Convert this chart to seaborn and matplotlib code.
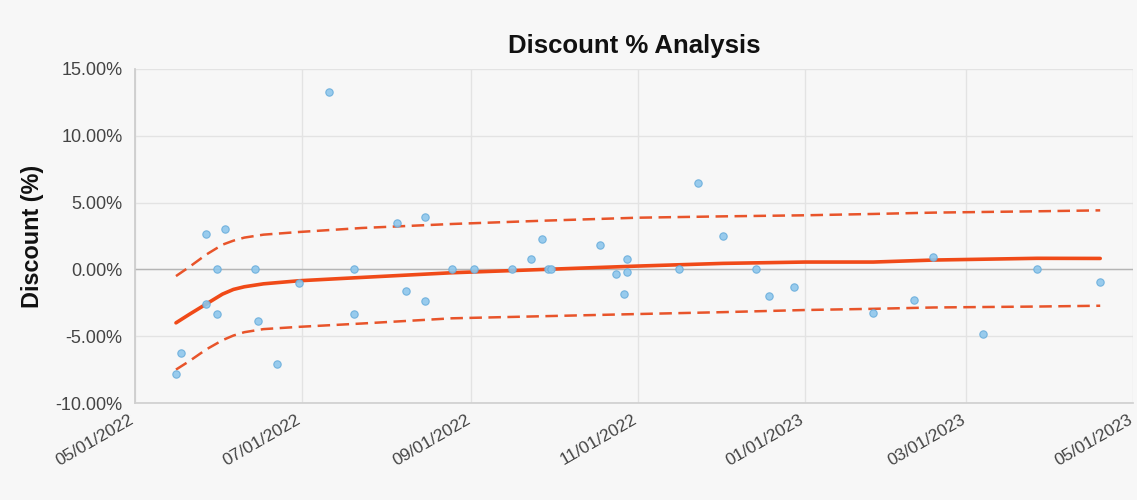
import matplotlib
matplotlib.use("Agg")
import matplotlib.pyplot as plt
import matplotlib.dates as mdates
import matplotlib.transforms as mtransforms
from matplotlib.ticker import FuncFormatter, FixedLocator
import seaborn as sns
import pandas as pd

# ---- data ----
obs_dates = ["2022-05-16", "2022-05-18", "2022-05-27", "2022-05-27", "2022-05-31", "2022-05-31",
             "2022-06-03", "2022-06-14", "2022-06-15", "2022-06-22", "2022-06-30", "2022-07-11",
             "2022-07-20", "2022-07-20", "2022-08-05", "2022-08-08", "2022-08-15", "2022-08-15",
             "2022-08-25", "2022-09-02", "2022-09-16", "2022-09-23", "2022-09-27", "2022-09-29",
             "2022-09-30", "2022-10-18", "2022-10-24", "2022-10-27", "2022-10-28", "2022-10-28",
             "2022-11-16", "2022-11-23", "2022-12-02", "2022-12-14", "2022-12-19", "2022-12-28",
             "2023-01-26", "2023-02-10", "2023-02-17", "2023-03-07", "2023-03-27", "2023-04-19"]
obs_discount = [-7.8, -6.25, 2.65, -2.6, 0.0, -3.35,
                3.0, 0.0, -3.85, -7.05, -1.0, 13.3,
                0.0, -3.35, 3.45, -1.65, 3.95, -2.35,
                0.0, 0.0, 0.0, 0.8, 2.3, 0.0,
                0.0, 1.8, -0.35, -1.85, 0.8, -0.2,
                0.0, 6.5, 2.5, 0.0, -2.0, -1.3,
                -3.25, -2.3, 0.9, -4.85, 0.0, -0.95]

trend_dates = ["2022-05-16", "2022-05-21", "2022-05-27", "2022-06-02", "2022-06-06", "2022-06-10",
               "2022-06-17", "2022-06-30", "2022-07-23", "2022-08-25", "2022-09-28", "2022-11-01",
               "2022-12-02", "2023-01-01", "2023-01-26", "2023-02-17", "2023-03-27", "2023-04-19"]
trend_mid = [-4.0, -3.35, -2.6, -1.85, -1.5, -1.3, -1.08, -0.85, -0.6, -0.25, 0.0, 0.25,
             0.45, 0.55, 0.55, 0.7, 0.83, 0.82]
trend_upper = [-0.5, 0.2, 1.1, 1.85, 2.15, 2.38, 2.6, 2.8, 3.1, 3.4, 3.65, 3.87,
               3.97, 4.05, 4.15, 4.25, 4.35, 4.42]
trend_lower = [-7.5, -6.85, -6.0, -5.3, -4.95, -4.7, -4.47, -4.3, -4.05, -3.66, -3.5, -3.34,
               -3.2, -3.04, -2.95, -2.85, -2.78, -2.72]

x_ticks = ["2022-05-01", "2022-07-01", "2022-09-01", "2022-11-01", "2023-01-01", "2023-03-01", "2023-05-01"]
y_ticks = [-10, -5, 0, 5, 10, 15]

title = "Discount % Analysis"
y_label = "Discount (%)"

# ---- frames ----
obs = pd.DataFrame({"date": pd.to_datetime(obs_dates), "discount": obs_discount})
trend = pd.DataFrame({"date": pd.to_datetime(trend_dates), "mid": trend_mid,
                      "upper": trend_upper, "lower": trend_lower})

sns.set_theme(style="white")
plt.rcParams["font.family"] = ["Liberation Sans", "DejaVu Sans"]

bg = "#f7f7f7"
fig = plt.figure(figsize=(11.37, 5.0), dpi=100, facecolor=bg)
ax = fig.add_axes([0.1187, 0.194, 0.8778, 0.668])
ax.set_facecolor(bg)

sns.lineplot(data=trend, x="date", y="upper", ax=ax, color="#e8542a", lw=1.8,
             zorder=3).lines[-1].set_dashes([5, 2.6])
sns.lineplot(data=trend, x="date", y="lower", ax=ax, color="#e8542a", lw=1.8,
             zorder=3).lines[-1].set_dashes([5, 2.6])
sns.lineplot(data=trend, x="date", y="mid", ax=ax, color="#f04a18", lw=2.6, zorder=4)
sns.scatterplot(data=obs, x="date", y="discount", ax=ax, s=28, color="#8ec7ec",
                edgecolor="#6aaedc", linewidth=0.8, alpha=0.9, zorder=5)

ax.set_xlim(pd.Timestamp(x_ticks[0]), pd.Timestamp(x_ticks[-1]))
ax.set_ylim(y_ticks[0], y_ticks[-1])
ax.xaxis.set_major_locator(FixedLocator(mdates.date2num(pd.to_datetime(x_ticks))))
ax.xaxis.set_major_formatter(mdates.DateFormatter("%m/%d/%Y"))
ax.set_yticks(y_ticks)
ax.yaxis.set_major_formatter(FuncFormatter(lambda v, p: f"{v:.2f}%"))

ax.grid(True, color="#e3e3e3", lw=1.0, zorder=0)
ax.axhline(0, color="#b5b5b5", lw=1.0, zorder=1)
for s in ["top", "right"]:
    ax.spines[s].set_visible(False)
ax.spines["left"].set_color("#cccccc")
ax.spines["bottom"].set_color("#d0d0d0")

ax.tick_params(axis="y", length=7, color="#e3e3e3", labelsize=13, labelcolor="#444444", pad=2)
ax.tick_params(axis="x", length=7, color="#e3e3e3", labelsize=12.5, labelcolor="#444444", pad=4)
offset = mtransforms.ScaledTranslation(-2 / 100, 0, fig.dpi_scale_trans)
for lbl in ax.get_xticklabels():
    lbl.set_rotation(30)
    lbl.set_ha("right")
    lbl.set_va("center")
    lbl.set_rotation_mode("anchor")
    lbl.set_transform(lbl.get_transform() + offset)

ax.set_xlabel("")
ax.set_ylabel(y_label, fontsize=16.8, fontweight="bold", color="#111111", labelpad=8)
ax.set_title(title, fontsize=18.5, fontweight="bold", color="#111111", pad=11.5)

fig.savefig("out.png", dpi=100, facecolor=bg)
